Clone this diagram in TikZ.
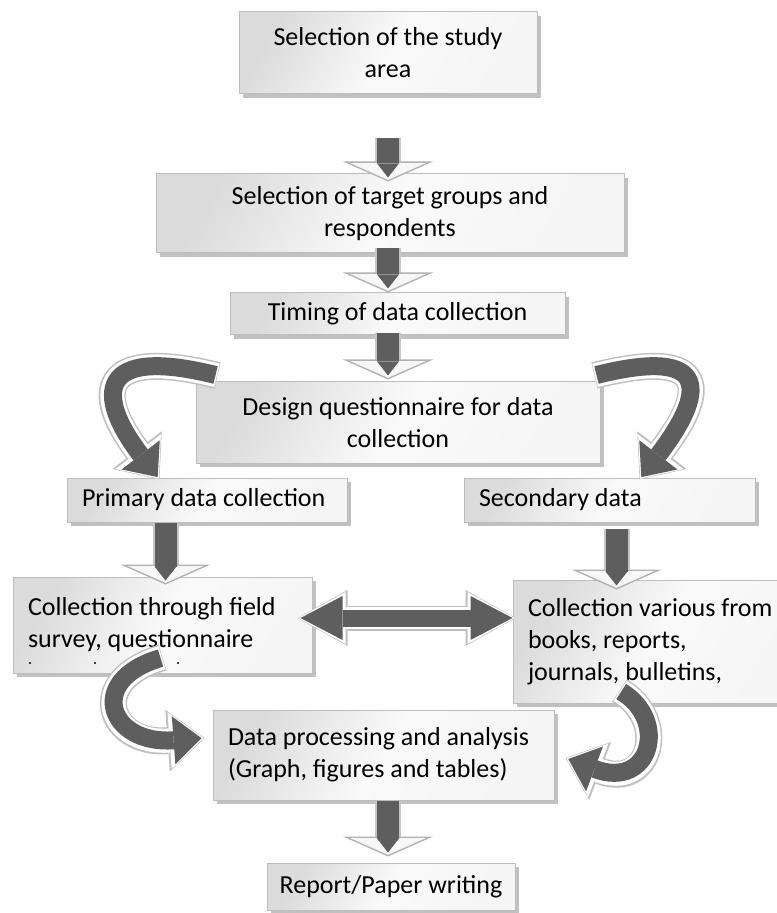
\documentclass[tikz,border=0pt]{standalone}
\usepackage{fontspec}
\setmainfont{Carlito}
\usetikzlibrary{arrows.meta,calc,shadows,positioning}
\definecolor{arrowdark}{HTML}{5E5E5E}
\definecolor{boxedge}{HTML}{BDBDBD}
\tikzset{
  box/.style={rectangle, draw=boxedge, line width=0.5pt, inner sep=0pt,
    left color=gray!28, right color=gray!8, middle color=white!96!gray, shading angle=60,
    drop shadow={shadow xshift=2pt, shadow yshift=-2pt, fill=gray!70, opacity=.7},
    font=\fontsize{13}{16}\selectfont},
  cbox/.style={box, align=center},
  lbox/.style={box, align=flush left, inner xsep=7.5pt},
  flow/.style={draw=arrowdark, line width=11pt,
    -{Triangle[length=7pt,width=11pt,line width=0pt]}, shorten >=2pt,
    preaction={draw=gray!45, line width=13pt,
      -{Triangle[length=10pt,width=45pt,line width=0.7pt,color=gray!60,fill=gray!6]}, shorten >=0pt}},
  curvy/.style={draw=arrowdark, line width=9pt,
    -{Triangle[length=14pt,width=24pt,line width=0pt]}, shorten >=1.5pt, shorten <=1pt,
    preaction={draw=gray!50, line width=13.5pt,
      -{Triangle[length=18.5pt,width=31pt,line width=0pt]}, shorten >=0pt, shorten <=0pt},
    preaction={draw=white, line width=12pt,
      -{Triangle[length=17pt,width=28.5pt,line width=0pt]}, shorten >=0.5pt, shorten <=0.3pt}},
  twoway/.style={draw=arrowdark, line width=8.5pt,
    {Triangle[length=21pt,width=22pt,line width=0pt]}-{Triangle[length=21pt,width=22pt,line width=0pt]},
    shorten >=1.5pt, shorten <=1.5pt,
    preaction={draw=gray!50, line width=12.5pt,
      {Triangle[length=25pt,width=28pt,line width=0pt]}-{Triangle[length=25pt,width=28pt,line width=0pt]},
      shorten >=0pt, shorten <=0pt},
    preaction={draw=white, line width=11pt,
      {Triangle[length=23.5pt,width=26pt,line width=0pt]}-{Triangle[length=23.5pt,width=26pt,line width=0pt]},
      shorten >=0.5pt, shorten <=0.5pt}}
}
\begin{document}
\begin{tikzpicture}[x=0.5pt, y=-0.5pt]
    \useasboundingbox (0,0) rectangle (776,913);
    % boxes
    \node[cbox, minimum width=149pt, minimum height=41pt] (area) at (388,53)
        {Selection of the study\\area};
    \node[cbox, minimum width=234pt, minimum height=39.5pt] (groups) at (390,213.5)
        {Selection of target groups and\\respondents};
    \node[cbox, minimum width=167.5pt, minimum height=21pt] (timing) at (397.5,314)
        {Timing of data collection};
    \node[cbox, minimum width=202pt, minimum height=40.5pt] (design) at (398,422.5)
        {Design questionnaire for data\\collection};
    \node[lbox, text width=125pt, minimum height=22pt] (primary) at (207,500)
        {Primary data collection};
    \node[lbox, text width=130.5pt, minimum height=22pt] (secondary) at (609.5,500)
        {Secondary data};
    \node[lbox, text width=134.5pt, minimum height=48pt] (field) at (162.5,625)
        {Collection through field\\survey, questionnaire};
    \node[lbox, text width=128pt, minimum height=61.5pt] (various) at (656,641.5)
        {Collection various from\\books, reports,\\journals, bulletins,};
    \node[lbox, text width=155.5pt, minimum height=45pt] (process) at (383.5,755)
        {Data processing and analysis\\(Graph, figures and tables)};
    \node[cbox, minimum width=124pt, minimum height=23.5pt] (report) at (391,886.5)
        {Report/Paper writing};
    \foreach \dx in {30,95,178}
        \fill (\dx,663) circle[radius=0.6pt];
    % straight arrows
    \draw[flow] ($(area.south)+(0,44)$) -- ($(area.south |- groups.north)+(0,8)$);
    \draw[flow] ($(groups.south -| area.south)+(0,-5)$) -- (timing.north -| area.south);
    \draw[flow] ($(timing.south -| area.south)+(0,-2)$) -- ($(design.north -| area.south)+(0,-2)$);
    \draw[flow] ($(primary.south west)+(99,0)$) -- ($(primary.south west |- field.north)+(99,8)$);
    \draw[flow] ($(secondary.south west)+(153,6)$) -- ($(secondary.south west |- various.north)+(153,10)$);
    \draw[flow] ($(process.south)+(4.5,0)$) -- ($(process.south |- report.north)+(4.5,-6)$);
    % curved arrows
    \draw[curvy] ($(design.north west)+(22,-6)$) .. controls +(-120,-30) and +(-65,-85)
        .. ($(primary.north west)+(93,2)$);
    \draw[curvy] ($(design.north east)+(-6,-6)$) .. controls +(120,-30) and +(65,-85)
        .. ($(secondary.north west)+(176,2)$);
    \draw[curvy] ($(field.south west)+(150,-16)$) .. controls +(-78,23) and +(-95,7)
        .. ($(process.west)+(-8,-17)$);
    \draw[curvy] ($(various.south west)+(107,-13)$) .. controls +(50,30) and +(85,32)
        .. ($(process.east)+(11,3)$);
    % both ways
    \coordinate (lt) at ($(field.east)+(-15,-7)$);
    \coordinate (rt) at ($(various.west |- lt)+(3,0)$);
    \draw[twoway] (lt) -- (rt);
\end{tikzpicture}
\end{document}
